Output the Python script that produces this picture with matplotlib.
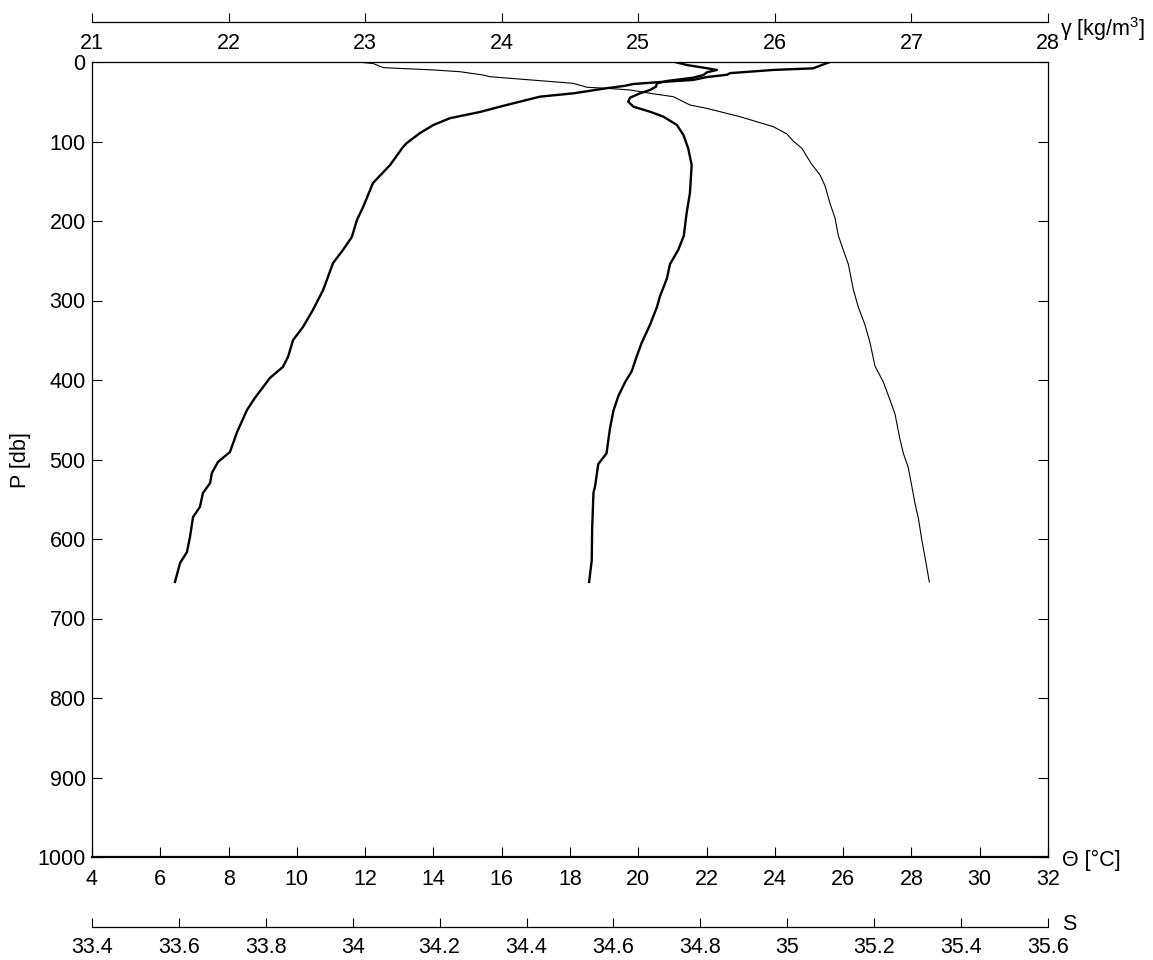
import matplotlib
matplotlib.use('Agg')
import numpy as np
import matplotlib.pyplot as plt

# profile data
p_theta = [0, 8, 10, 14, 16, 19, 22.6, 25.2, 27.7, 30, 33, 39.4, 43.6, 54, 62.9, 70.6,
           79.2, 89.3, 101.9, 106.9, 129.6, 152.2, 182.4, 198.7, 220.1, 236.5, 252.8,
           286.8, 311.9, 333.3, 349.7, 371.1, 383.6, 397.5, 422.6, 437.7, 465.4, 490.6,
           503.1, 517, 529.6, 542.1, 559.7, 572.3, 597.5, 616.4, 630.2, 654]
theta = [25.61, 25.12, 23.95, 22.69, 22.6, 22.0, 21.6, 20.64, 19.85, 19.6, 19.07, 18.10,
         17.12, 16.15, 15.36, 14.49, 14.0, 13.61, 13.22, 13.11, 12.73, 12.23, 11.94,
         11.76, 11.61, 11.35, 11.06, 10.77, 10.47, 10.18, 9.89, 9.74, 9.59, 9.21, 8.77,
         8.54, 8.25, 8.04, 7.69, 7.51, 7.46, 7.25, 7.16, 6.96, 6.87, 6.78, 6.58, 6.43]

p_sal = [0, 3.8, 7.1, 10, 13, 16.4, 19.7, 23.9, 26.8, 31, 35.2, 39.4, 44.9, 49.9, 56.2,
         62.5, 68.8, 79.2, 91.8, 108.6, 129.6, 164.6, 191.5, 218.5, 236.4, 254.4, 272.3,
         294.8, 308.3, 330.7, 353.2, 371.1, 389.1, 402.5, 420.5, 438.5, 460.9, 492.3,
         505.8, 532.8, 541.8, 586.7, 627, 654]
sal = [34.742, 34.769, 34.807, 34.838, 34.815, 34.807, 34.784, 34.723, 34.700, 34.698,
       34.684, 34.661, 34.638, 34.634, 34.646, 34.684, 34.715, 34.746, 34.761, 34.772,
       34.780, 34.776, 34.768, 34.762, 34.749, 34.730, 34.723, 34.707, 34.700, 34.684,
       34.665, 34.653, 34.642, 34.627, 34.611, 34.600, 34.592, 34.584, 34.565, 34.558,
       34.554, 34.551, 34.550, 34.544]

p_gam = [0, 2, 7.1, 10, 12.2, 16.4, 18.5, 26.8, 31.8, 33.1, 35.2, 39.4, 43.6, 54.1, 58.3,
         68.8, 81.4, 90.4, 99.5, 108.4, 128.7, 142.1, 155.6, 178, 196, 218.5, 236.4,
         254.3, 285.8, 308.3, 330.7, 353.2, 382.4, 402.5, 425, 443, 474.5, 492.3, 510.3,
         532.8, 555.2, 573.2, 600.1, 622.5, 654]
gamma = [22.946, 23.06, 23.133, 23.50, 23.695, 23.863, 23.914, 24.522, 24.625, 24.771,
         24.939, 25.086, 25.256, 25.379, 25.501, 25.745, 25.989, 26.087, 26.135, 26.197,
         26.27, 26.331, 26.367, 26.404, 26.44, 26.465, 26.501, 26.538, 26.574, 26.611,
         26.66, 26.697, 26.733, 26.794, 26.843, 26.880, 26.916, 26.941, 26.977, 27.002,
         27.026, 27.05, 27.075, 27.099, 27.131]

theta_ticks = np.arange(4, 33, 2)
p_ticks = np.arange(0, 1001, 100)
gam_ticks = np.arange(21, 29, 1)
sal_ticks = np.round(np.arange(33.4, 35.61, 0.2), 1)

plt.rcParams['font.family'] = ['Liberation Sans', 'DejaVu Sans']
plt.rcParams['mathtext.fontset'] = 'custom'
plt.rcParams['mathtext.rm'] = 'Liberation Sans'
plt.rcParams['mathtext.default'] = 'regular'

W, H = 1153, 960
fs = 15.5
fig = plt.figure(figsize=(W / 100, H / 100), dpi=100)

x0, x1 = 92, 1048
ax = fig.add_axes([x0 / W, 1 - 857 / H, (x1 - x0) / W, (857 - 62) / H])
ax.plot(theta, p_theta, color='k', lw=1.7)
ax.set_xlim(4, 32)
ax.set_ylim(1000, 0)
ax.set_xticks(theta_ticks)
ax.set_yticks(p_ticks)
ax.set_xticklabels([f'{v:g}' for v in theta_ticks])
ax.tick_params(direction='in', length=7, width=0.8, top=True, right=True,
               labelsize=fs, pad=8.5)
ax.tick_params(axis='y', pad=4.5)
for s in ax.spines.values():
    s.set_linewidth(0.9)
ax.spines['bottom'].set_linewidth(1.6)

# salinity and density on overlaid axes
ax_s = ax.twiny()
ax_s.plot(sal, p_sal, color='k', lw=1.7)
ax_s.set_xlim(33.4, 35.6)
ax_s.axis('off')

ax_g = ax.twiny()
ax_g.plot(gamma, p_gam, color='k', lw=0.8)
ax_g.set_xlim(21, 28)
ax_g.axis('off')


def scale_axis(ypix, lo, hi, ticks, labels, pad):
    a = fig.add_axes([x0 / W, 1 - ypix / H, (x1 - x0) / W, 0.0001])
    a.set_facecolor('none')
    a.set_xlim(lo, hi)
    a.set_xticks(ticks)
    a.set_xticklabels(labels)
    a.set_yticks([])
    for k in ['top', 'left', 'right']:
        a.spines[k].set_visible(False)
    a.spines['bottom'].set_linewidth(0.9)
    a.tick_params(axis='x', direction='in', length=6.5, width=0.8,
                  labelsize=fs, pad=pad)
    return a


scale_axis(21.7, 21, 28, gam_ticks, [f'{v:g}' for v in gam_ticks], 8)
scale_axis(927, 33.4, 35.6, sal_ticks, [f'{v:g}' for v in sal_ticks], 7.5)

fig.text(21 / W, 1 - 460 / H, 'P [db]', rotation=90, ha='center', va='center', fontsize=fs)
fig.text(1062 / W, 1 - 860 / H, 'Θ [°C]', ha='left', va='center', fontsize=fs)
fig.text(1062 / W, 1 - 925 / H, 'S', ha='left', va='center', fontsize=fs)
fig.text(1060 / W, 1 - 29 / H, 'γ [kg/m$^3$]', ha='left', va='center', fontsize=fs)

fig.savefig('out.png', dpi=100)
